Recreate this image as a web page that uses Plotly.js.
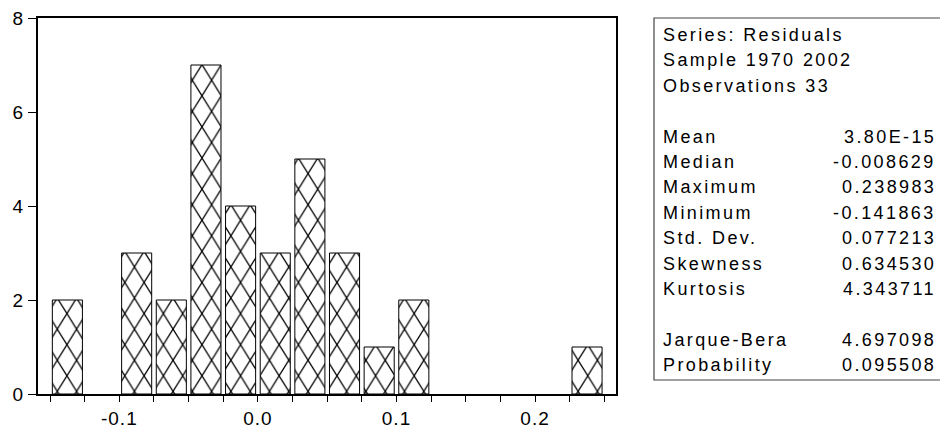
<!DOCTYPE html>
<html>
<head>
<meta charset="utf-8">
<script src="https://cdn.plot.ly/plotly-3.0.1.min.js"></script>
<style>
  html, body { margin: 0; padding: 0; background: #fff; }
  #chart { width: 940px; height: 429px; }
  .annotation-text { letter-spacing: 2.4px; }
  .xtick text, .ytick text { letter-spacing: 1px; }
</style>
</head>
<body>
<div id="chart"></div>
<script>
// ---- data ----
var binLower = [-0.15, -0.125, -0.1, -0.075, -0.05, -0.025, 0.0, 0.025, 0.05, 0.075, 0.1, 0.125, 0.15, 0.175, 0.2, 0.225];
var binWidth = 0.025;
var counts   = [2, 0, 3, 2, 7, 4, 3, 5, 3, 1, 2, 0, 0, 0, 0, 1];
var xTickVals = [-0.1, 0.0, 0.1, 0.2];
var xTickText = ["-0.1", "0.0", "0.1", "0.2"];
var yTickVals = [0, 2, 4, 6, 8];
var statLabels = ["Series: Residuals", "Sample 1970 2002", "Observations 33", "",
                  "Mean", "Median", "Maximum", "Minimum", "Std. Dev.", "Skewness", "Kurtosis", "",
                  "Jarque-Bera", "Probability"];
var statValues = ["", "", "", "",
                  "3.80E-15", "-0.008629", "0.238983", "-0.141863", "0.077213", "0.634530", "4.343711", "",
                  "4.697098", "0.095508"];

// ---- layout geometry (pixels) ----
var W = 940, H = 429;
var plotL = 38, plotR = 616, plotT = 18, plotB = 394;
var pw = plotR - plotL, ph = plotB - plotT;
function px2x(p) { return (p - plotL) / pw; }
function px2y(p) { return (plotB - p) / ph; }

var centers = binLower.map(function (v) { return v + binWidth / 2; });

var trace = {
  type: 'bar',
  x: centers,
  y: counts,
  width: 0.0217,
  marker: {
    color: 'white',
    line: { color: 'black', width: counts.map(function (c) { return c > 0 ? 1 : 0; }) },
    pattern: { shape: 'x', size: 22, solidity: 0.15, fgcolor: 'black', bgcolor: 'white', fillmode: 'replace' }
  },
  hoverinfo: 'skip'
};

var FONT = 'Liberation Sans, Arial, sans-serif';
var annotations = [];
var rowY0 = 35, rowStep = 25.4;
var labelX = 661, valueX = 938;
statLabels.forEach(function (lab, i) {
  var yy = px2y(rowY0 + i * rowStep);
  if (lab) {
    annotations.push({ xref: 'paper', yref: 'paper', x: px2x(labelX), y: yy, xanchor: 'left', yanchor: 'middle',
      text: lab, showarrow: false, font: { family: FONT, size: 18, color: 'black' } });
  }
  if (statValues[i]) {
    annotations.push({ xref: 'paper', yref: 'paper', x: px2x(valueX), y: yy, xanchor: 'right', yanchor: 'middle',
      text: statValues[i], showarrow: false, font: { family: FONT, size: 18, color: 'black' } });
  }
});

var layout = {
  width: W, height: H,
  margin: { l: plotL, r: W - plotR, t: plotT, b: H - plotB, pad: 0 },
  paper_bgcolor: 'white', plot_bgcolor: 'white',
  showlegend: false,
  font: { family: FONT, size: 19, color: 'black' },
  xaxis: {
    range: [-0.1587, 0.2584],
    tickmode: 'array', tickvals: xTickVals, ticktext: xTickText,
    ticks: 'outside', ticklen: 6, tickwidth: 1, tickcolor: 'black',
    minor: { tickmode: 'linear', tick0: 0, dtick: 0.025, ticks: 'outside', ticklen: 6, tickwidth: 1, tickcolor: 'black', showgrid: false },
    showgrid: false, zeroline: false,
    showline: true, linecolor: 'black', linewidth: 2, mirror: true,
    tickfont: { family: FONT, size: 19, color: 'black' }
  },
  yaxis: {
    range: [0, 8],
    tickmode: 'array', tickvals: yTickVals, ticktext: yTickVals.map(String),
    ticks: 'outside', ticklen: 8, tickwidth: 1, tickcolor: 'black',
    showgrid: false, zeroline: false,
    showline: true, linecolor: 'black', linewidth: 2, mirror: true,
    tickfont: { family: FONT, size: 19, color: 'black' }
  },
  shapes: [{
    type: 'rect', xref: 'paper', yref: 'paper',
    x0: px2x(654), x1: px2x(960), y0: px2y(380), y1: px2y(18),
    line: { color: '#444', width: 1.2 }, fillcolor: 'rgba(0,0,0,0)'
  }],
  annotations: annotations
};

Plotly.newPlot('chart', [trace], layout, { displayModeBar: false, staticPlot: true }).then(function (gd) {
  // squeeze the hatch tiles horizontally so the diamonds are taller than wide, as in the reference
  var pats = gd.querySelectorAll('pattern');
  pats.forEach(function (p) { p.setAttribute('patternTransform', 'scale(0.62,1)'); });
});
</script>
</body>
</html>
